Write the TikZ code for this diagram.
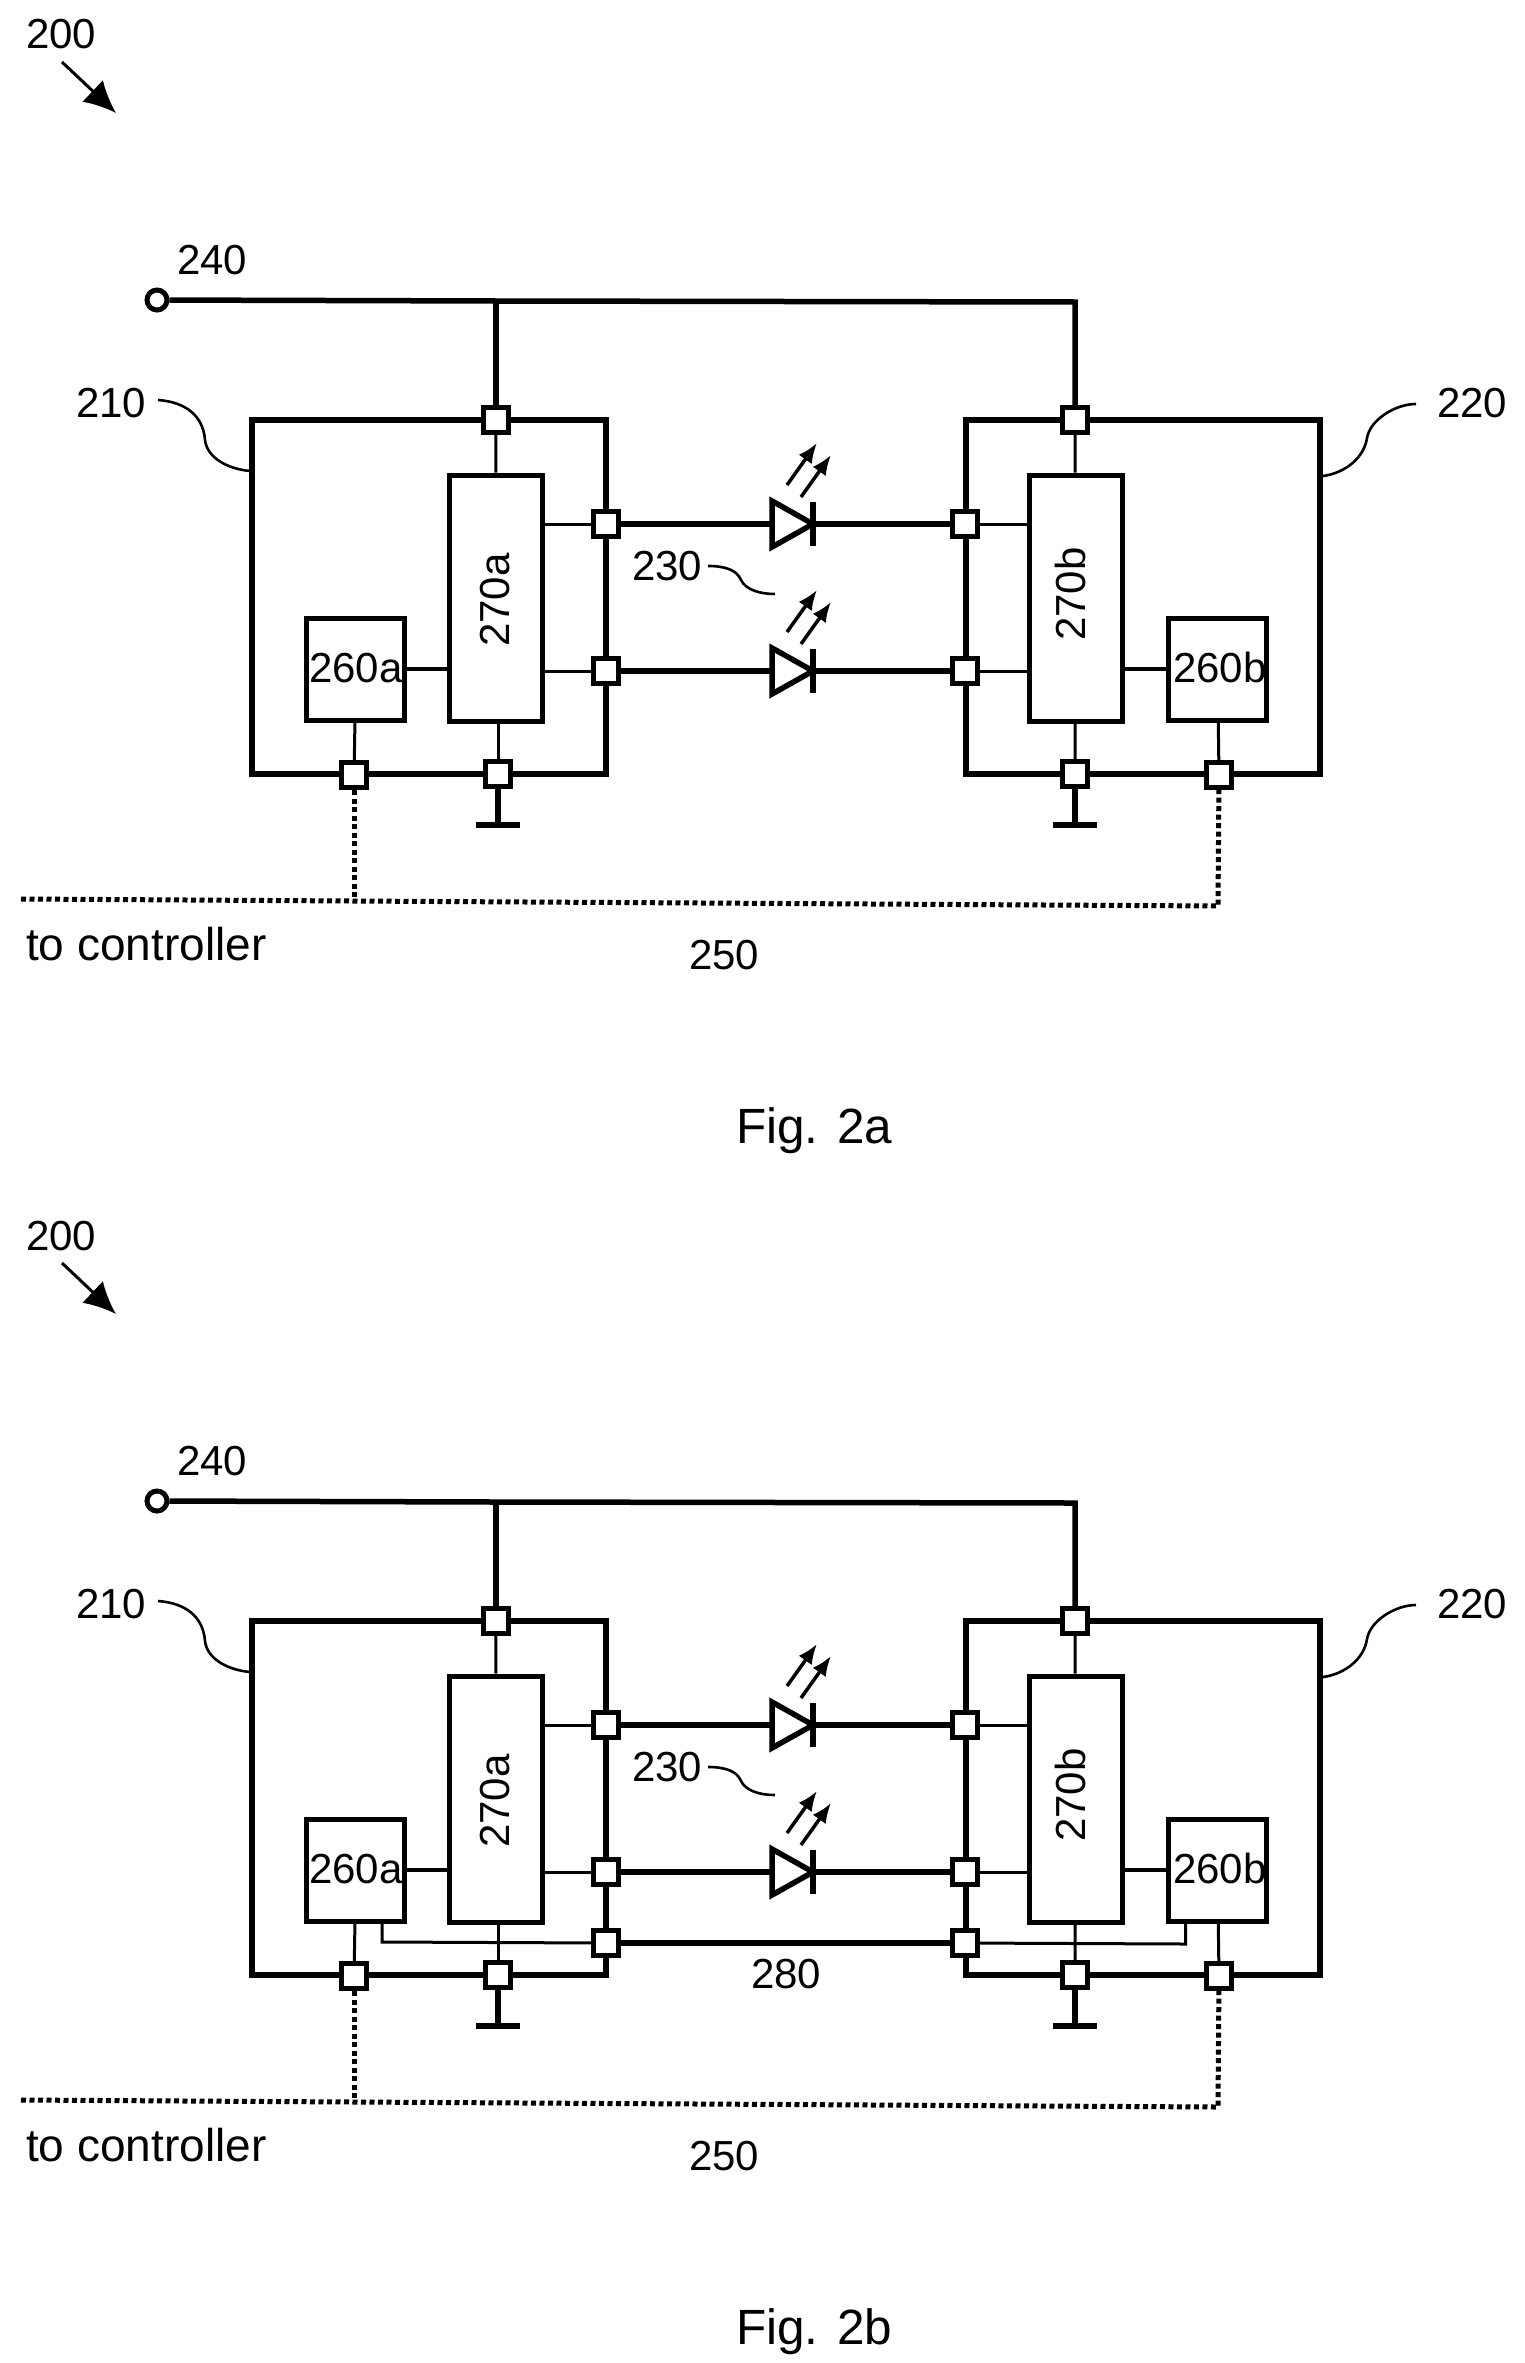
\documentclass[tikz,border=0pt]{standalone}
\usepackage{fontspec}
\setmainfont{Liberation Sans}
\usetikzlibrary{arrows.meta}
\tikzset{
  lbl/.style = {inner sep=0, anchor=base west, font=\fontsize{42}{48}\selectfont},
  bigbox/.style = {draw, line width=5.5pt, minimum width=354pt, minimum height=354pt, inner sep=0},
  unitbox/.style = {draw, fill=white, line width=5pt, inner sep=0},
  port/.style = {draw, fill=white, line width=5pt, minimum size=25pt, inner sep=0},
  thick line/.style = {line width=5.5pt},
  thin line/.style = {line width=3pt},
  lead/.style = {line width=2.6pt},
  ctrl/.style = {line width=5pt, dash pattern=on 5pt off 3.5pt},
  ray/.style = {line width=3.5pt, -{Latex[length=20pt,width=16pt]}},
}
\begin{document}
\begin{tikzpicture}[x=1pt, y=-1pt]
\useasboundingbox (0,0) rectangle (1524,2363);

\foreach \f/\yo in {a/0,b/1201} {
  \node[lbl] (num\f) at (26,49+\yo) {200};
  \coordinate (arrs\f) at (62,62+\yo);
  \coordinate (arre\f) at (116,113+\yo);
  \draw[line width=3pt, -{Latex[length=32pt,width=30pt]}] (arrs\f) -- (arre\f);

  % the two modules
  \node[bigbox] (mod1\f) at (429,597+\yo) {};
  \node[bigbox] (mod2\f) at (1143,597+\yo) {};
  \node[unitbox, minimum width=93pt, minimum height=246pt] (drv1\f) at (495.5,598+\yo) {};
  \node[unitbox, minimum width=93pt, minimum height=246pt] (drv2\f) at (1075.5,598+\yo) {};
  \node[unitbox, minimum width=98pt, minimum height=102pt] (ctl1\f) at (355,669+\yo) {};
  \node[unitbox, minimum width=98pt, minimum height=102pt] (ctl2\f) at (1217.5,669+\yo) {};
  \node[inner sep=0, rotate=90, font=\fontsize{42}{48}\selectfont] (tdrv1\f) at (495,600+\yo) {270a};
  \node[inner sep=0, rotate=90, font=\fontsize{42}{48}\selectfont] (tdrv2\f) at (1070,594+\yo) {270b};
  \node[lbl] (tctl1\f) at (309,682+\yo) {260a};
  \node[lbl] (tctl2\f) at (1173,682+\yo) {260b};

  % ports
  \node[port] (ptop1\f) at (496,420+\yo) {};
  \node[port] (ptop2\f) at (1075,420+\yo) {};
  \node[port] (pgnd1\f) at (498,774+\yo) {};
  \node[port] (pgnd2\f) at (1075,774+\yo) {};
  \node[port] (pctl1\f) at (354,775+\yo) {};
  \node[port] (pctl2\f) at (1219,775+\yo) {};
  \foreach \d/\y in {u/524,l/671} {
    \node[port] (pl\d\f) at (606,\y+\yo) {};
    \node[port] (pr\d\f) at (965,\y+\yo) {};
    \draw[thin line] (drv1\f.east |- pl\d\f) -- (pl\d\f);
    \draw[thin line] (pr\d\f) -- (drv2\f.west |- pr\d\f);
    % diode
    \coordinate (dia\d\f) at (772,\y+\yo);
    \coordinate (dib\d\f) at (813,\y+\yo);
    \draw[thick line, miter limit=4] (772,\y-23+\yo) -- (dib\d\f) -- (772,\y+23+\yo) -- cycle;
    \draw[thick line] (813,\y-22+\yo) -- (813,\y+22+\yo);
    \draw[thick line] (pl\d\f) -- (dia\d\f);
    \draw[thick line] (dib\d\f) -- (pr\d\f);
    \draw[ray] (787,\y-39+\yo) -- (817,\y-81+\yo);
    \draw[ray] (801,\y-27+\yo) -- (831,\y-69+\yo);
  }

  % supply
  \node[draw, circle, line width=5pt, minimum size=20pt, inner sep=0] (sup\f) at (157,300+\yo) {};
  \node[lbl] (tsup\f) at (177,274+\yo) {240};
  \coordinate (bus\f) at (496,301+\yo);
  \coordinate (busr\f) at (1075,302+\yo);
  \draw[thick line] (sup\f) -- (bus\f) -- (busr\f) -- (ptop2\f);
  \draw[thick line] (bus\f) -- (ptop1\f);
  \draw[thin line] (ptop1\f) -- (drv1\f);
  \draw[thin line] (ptop2\f) -- (drv2\f);
  \draw[thin line] (drv1\f.south -| pgnd1\f) -- (pgnd1\f);
  \draw[thin line] (drv2\f) -- (pgnd2\f);
  \draw[line width=3.5pt] (ctl1\f.east) -- (drv1\f.west |- ctl1\f.east);
  \draw[line width=3.5pt] (drv2\f.east |- ctl2\f.west) -- (ctl2\f.west);
  \draw[thin line] (355,720+\yo) -- (pctl1\f);
  \draw[thin line] (ctl2\f) -- (pctl2\f);

  % ground
  \foreach \i in {1,2} {
    \coordinate (gnd\i\f) at (pgnd\i\f |- 0,825+\yo);
    \draw[thick line] (pgnd\i\f) -- (gnd\i\f);
    \draw[thick line] ([xshift=-22pt]gnd\i\f) -- ([xshift=22pt]gnd\i\f);
  }

  % control bus
  \coordinate (cl\f) at (21,899+\yo);
  \coordinate (cm\f) at (354,901+\yo);
  \coordinate (cr\f) at (1218,906+\yo);
  \draw[ctrl] (cl\f) -- (cm\f) -- (cr\f) -- (pctl2\f);
  \draw[ctrl] (pctl1\f) -- (cm\f);

  % labels and their leaders
  \node[lbl] (t210\f) at (76,417+\yo) {210};
  \draw[lead] (158,400+\yo) .. controls (185,402+\yo) and (203,415+\yo) .. (205,440+\yo) .. controls (207,458+\yo) and (228,469+\yo) .. (250,471+\yo);
  \node[lbl] (t220\f) at (1437,417+\yo) {220};
  \draw[lead] (1416,404+\yo) .. controls (1395,404+\yo) and (1370,420+\yo) .. (1367,438+\yo) .. controls (1364,458+\yo) and (1345,473+\yo) .. (1323,476+\yo);
  \node[lbl] (t230\f) at (632,580+\yo) {230};
  \draw[lead] (708,566+\yo) .. controls (725,566+\yo) and (737,570+\yo) .. (741,580+\yo) .. controls (746,590+\yo) and (760,594+\yo) .. (775,594+\yo);
  \node[lbl, font=\fontsize{46}{54}\selectfont] (tctrl\f) at (26,960+\yo) {to controller};
  \node[lbl] (t250\f) at (689,969+\yo) {250};
}
\node[lbl, font=\fontsize{49.5}{56}\selectfont] (figa) at (736,1143) {Fig. 2a};
\node[lbl, font=\fontsize{49.5}{56}\selectfont] (figb) at (736,2344) {Fig. 2b};

% only in fig. 2b
\node[port] (pil) at (606,1943) {};
\node[port] (pir) at (965,1943) {};
\coordinate (tapa) at (382,1921);
\coordinate (tapak) at (382,1942);
\coordinate (tapb) at (1185.5,1922);
\coordinate (tapbk) at (1185.5,1944);
\draw[thick line] (pil) -- (pir);
\draw[thin line] (tapa) -- (tapak) -- (pil);
\draw[thin line] (pir) -- (tapbk) -- (tapb);
\node[lbl] (t280) at (751,1988) {280};

\end{tikzpicture}
\end{document}
